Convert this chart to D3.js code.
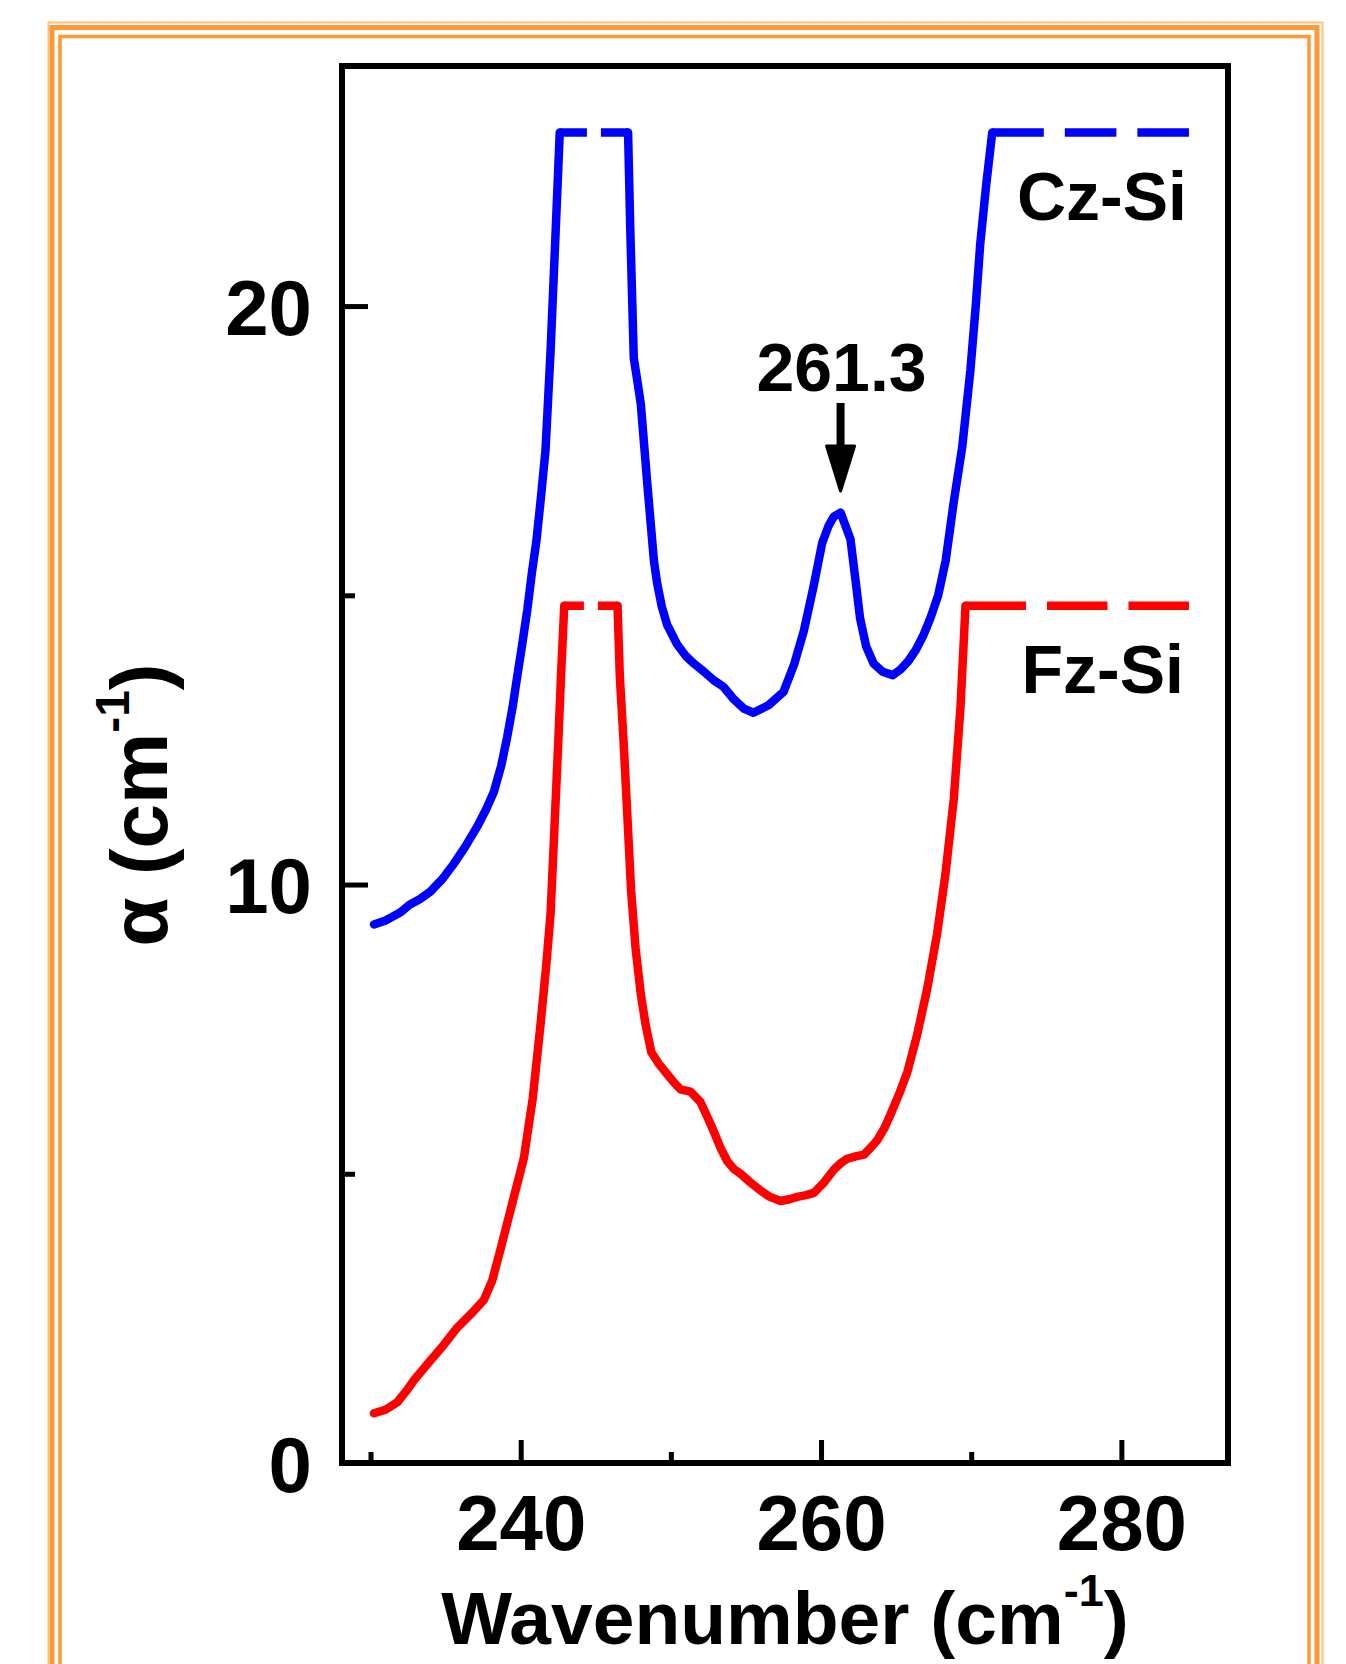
<!DOCTYPE html>
<html>
<head>
<meta charset="utf-8">
<script src="https://cdn.jsdelivr.net/npm/d3@7"></script>
<style>
  html, body { margin: 0; padding: 0; background: #fff; }
  svg { display: block; }
  text { font-family: "Liberation Sans", Arial, sans-serif; font-weight: bold; fill: #000; }
</style>
</head>
<body>
<div id="chart"></div>
<script>
// Cz-Si absorption (cm^-1) vs wavenumber (cm^-1); values at CZ_SAT are off-scale
const wavenumberCz = [230.23, 231.0, 232.0, 232.6, 233.3, 233.99, 234.8, 235.55, 236.3, 237.1, 237.7, 238.21,
  238.7, 239.1, 239.45, 239.77, 240.1, 240.44, 240.75, 241.05, 241.35, 241.65, 241.99, 242.32, 242.6,
  247.15, 247.3, 247.53, 247.8, 248.0, 248.43, 248.87, 249.09, 249.4, 249.75, 250.42, 251.0, 251.53, 252.2,
  252.86, 253.5, 254.2, 254.86, 255.5, 256.5, 257.5, 258.2, 258.85, 259.5, 260.07, 260.5, 260.85, 261.3,
  261.96, 262.3, 262.6, 263.0, 263.5, 264.1, 264.78, 265.3, 265.8, 266.3, 266.8, 267.3, 267.8, 268.3,
  268.83, 269.4, 269.95, 270.3, 270.6, 271.0, 271.4, 284.5];
const alphaCz = [9.31, 9.38, 9.52, 9.65, 9.75, 9.88, 10.1, 10.36, 10.65, 11.0, 11.3, 11.6,
  12.05, 12.55, 13.05, 13.6, 14.15, 14.75, 15.4, 15.95, 16.7, 17.5, 19.23, 21.25, 23,
  23, 21.3, 19.1, 18.65, 18.3, 16.93, 15.6, 15.2, 14.8, 14.49, 14.15, 13.95, 13.82, 13.68,
  13.53, 13.42, 13.2, 13.04, 12.97, 13.1, 13.33, 13.8, 14.38, 15.15, 15.9, 16.2, 16.36, 16.43,
  15.97, 15.25, 14.6, 14.12, 13.82, 13.68, 13.62, 13.72, 13.86, 14.05, 14.3, 14.62, 15.0, 15.6,
  16.6, 17.56, 18.9, 20.0, 21.07, 22.1, 23, 23];

// Fz-Si absorption
const wavenumberFz = [230.23, 231.0, 231.78, 232.4, 232.89, 233.5, 233.99, 234.9, 235.77, 236.7, 237.55, 238.1,
  238.66, 239.4, 240.21, 240.8, 241.32, 241.7, 241.99, 242.25, 242.5, 242.7, 242.9,
  246.45, 246.6, 246.87, 247.1, 247.35, 247.65, 248.0, 248.3, 248.7, 249.2, 249.76, 250.2, 250.64, 251.31,
  251.97, 252.4, 252.86, 253.3, 253.75, 254.2, 254.64, 255.3, 255.97, 256.6, 257.3, 257.9, 258.41, 259.0,
  259.52, 260.2, 260.85, 261.3, 261.74, 262.3, 262.85, 263.3, 263.74, 264.2, 264.62, 265.2, 265.74, 266.4,
  267.07, 267.73, 268.28, 268.84, 269.29, 269.62, 284.5];
const alphaFz = [0.86, 0.92, 1.05, 1.25, 1.43, 1.62, 1.77, 2.05, 2.34, 2.58, 2.82, 3.15,
  3.7, 4.45, 5.27, 6.3, 7.58, 8.6, 9.5, 11.0, 12.45, 13.7, 14.82,
  14.82, 13.6, 12.38, 11.2, 9.9, 8.9, 8.1, 7.6, 7.1, 6.9, 6.72, 6.58, 6.46, 6.42,
  6.24, 6.0, 5.73, 5.45, 5.22, 5.08, 5.0, 4.85, 4.71, 4.6, 4.53, 4.56, 4.6, 4.63,
  4.67, 4.85, 5.07, 5.18, 5.26, 5.3, 5.33, 5.45, 5.58, 5.78, 6.02, 6.38, 6.75, 7.4,
  8.2, 9.15, 10.17, 11.48, 13.08, 14.82, 14.82];

const CZ_SAT = 23;
const FZ_SAT = 14.82;
const seriesNames = ["Cz-Si", "Fz-Si"];
const seriesColors = ["#0000ff", "#ff0000"];
const xTicksMajor = [240, 260, 280];
const xTicksMinor = [230, 250, 270];
const yTicksMajor = [0, 10, 20];
const yTicksMinor = [5, 15];
const PEAK_POS = 261.3;
const PEAK_LABEL = "261.3";

const W = 1346, H = 1664;
const svg = d3.select("#chart").append("svg")
  .attr("width", W)
  .attr("height", H);

// decorative orange frame (runs off the bottom of the page)
const frame = svg.append("g").attr("fill", "none");
frame.append("rect").attr("x", 48.5).attr("y", 22.5).attr("width", 1274).attr("height", 1700)
  .attr("stroke", "#ffc080").attr("stroke-width", 2);
frame.append("rect").attr("x", 52).attr("y", 27.5).attr("width", 1265).attr("height", 1700)
  .attr("stroke", "#ff9933").attr("stroke-width", 5);
frame.append("rect").attr("x", 60).attr("y", 36.5).attr("width", 1249).attr("height", 1700)
  .attr("stroke", "#ff9933").attr("stroke-width", 3.5);

const x = d3.scaleLinear().domain([228.1, 287.1]).range([342, 1228]);
const y = d3.scaleLinear().domain([0, 24.15]).range([1463, 66]);

// axes: ticks point inwards
const gx = svg.append("g").attr("transform", `translate(0,${y(0)})`)
  .call(d3.axisBottom(x).tickValues(xTicksMajor).tickSize(-23).tickPadding(32).tickFormat(d3.format("d")));
svg.append("g").attr("transform", `translate(0,${y(0)})`)
  .call(d3.axisBottom(x).tickValues(xTicksMinor).tickSize(-11).tickFormat(""));
const gy = svg.append("g").attr("transform", `translate(${x.range()[0]},0)`)
  .call(d3.axisLeft(y).tickValues(yTicksMajor).tickSize(-26).tickPadding(30).tickFormat(d3.format("d")));
svg.append("g").attr("transform", `translate(${x.range()[0]},0)`)
  .call(d3.axisLeft(y).tickValues(yTicksMinor).tickSize(-13).tickFormat(""));

svg.selectAll(".domain").remove();
svg.selectAll(".tick line").attr("stroke", "#000").attr("stroke-width", 5);
gx.selectAll(".tick text").style("font-size", "78px");
gy.selectAll(".tick text").style("font-size", "78px").attr("dy", "0.36em");

// plot box
svg.append("rect")
  .attr("x", x.range()[0]).attr("y", y.range()[1])
  .attr("width", x.range()[1] - x.range()[0])
  .attr("height", y.range()[0] - y.range()[1])
  .attr("fill", "none").attr("stroke", "#000").attr("stroke-width", 6);

// split a series into measured (solid) runs and saturated (dashed) runs
function splitRuns(xs, ys, sat) {
  const runs = [];
  for (let i = 0; i < xs.length - 1; i++) {
    const dashed = ys[i] >= sat && ys[i + 1] >= sat;
    const last = runs[runs.length - 1];
    if (last && last.dashed === dashed) last.pts.push([xs[i + 1], ys[i + 1]]);
    else runs.push({ dashed, pts: [[xs[i], ys[i]], [xs[i + 1], ys[i + 1]]] });
  }
  return runs;
}

const line = d3.line().x(d => x(d[0])).y(d => y(d[1]));

function dashFor(r) {
  const len = x(r.pts[r.pts.length - 1][0]) - x(r.pts[0][0]);
  const gap = len < 100 ? 14 : 21;
  const n = Math.max(2, Math.round((len + gap) / 77));
  return `${(len - (n - 1) * gap) / n} ${gap}`;
}

function drawSeries(xs, ys, sat, color) {
  const runs = splitRuns(xs, ys, sat);
  const g = svg.append("g");
  g.selectAll("path.solid")
    .data(runs.filter(r => !r.dashed))
    .join("path")
    .attr("class", "solid")
    .attr("d", r => line(r.pts))
    .attr("fill", "none")
    .attr("stroke", color)
    .attr("stroke-width", 8.5)
    .attr("stroke-linejoin", "round")
    .attr("stroke-linecap", "round");
  g.selectAll("path.sat")
    .data(runs.filter(r => r.dashed))
    .join("path")
    .attr("class", "sat")
    .attr("d", r => line(r.pts))
    .attr("fill", "none")
    .attr("stroke", color)
    .attr("stroke-width", 8.5)
    .attr("stroke-dasharray", dashFor);
}

drawSeries(wavenumberCz, alphaCz, CZ_SAT, seriesColors[0]);
drawSeries(wavenumberFz, alphaFz, FZ_SAT, seriesColors[1]);

// series labels
const labelX = x(284.5) - 2;
svg.append("text").attr("x", labelX).attr("y", y(CZ_SAT) + 87)
  .attr("text-anchor", "end").style("font-size", "68px").text(seriesNames[0]);
svg.append("text").attr("x", labelX - 3).attr("y", y(FZ_SAT) + 87)
  .attr("text-anchor", "end").style("font-size", "68px").text(seriesNames[1]);

// peak annotation
const px = x(PEAK_POS);
svg.append("text").attr("x", px + 1).attr("y", 391)
  .attr("text-anchor", "middle").style("font-size", "68px").text(PEAK_LABEL);
svg.append("line").attr("x1", px).attr("x2", px).attr("y1", 403).attr("y2", 450)
  .attr("stroke", "#000").attr("stroke-width", 8);
svg.append("path")
  .attr("d", `M${px - 14},446 L${px + 14},446 L${px},491 Z`)
  .attr("fill", "#000").attr("stroke", "#000").attr("stroke-width", 3).attr("stroke-linejoin", "round");

// axis titles
const xt = svg.append("text")
  .attr("x", (x.range()[0] + x.range()[1]) / 2)
  .attr("y", 1644)
  .attr("text-anchor", "middle")
  .style("font-size", "75px");
xt.append("tspan").text("Wavenumber (cm");
xt.append("tspan").attr("dy", -38).style("font-size", "45px").text("-1");
xt.append("tspan").attr("dy", 38).text(")");

const yt = svg.append("text")
  .attr("transform", "translate(167,805) rotate(-90)")
  .attr("text-anchor", "middle")
  .style("font-size", "80px");
yt.append("tspan").text("α (cm");
yt.append("tspan").attr("dy", -38).style("font-size", "48px").text("-1");
yt.append("tspan").attr("dy", 38).text(")");
</script>
</body>
</html>
